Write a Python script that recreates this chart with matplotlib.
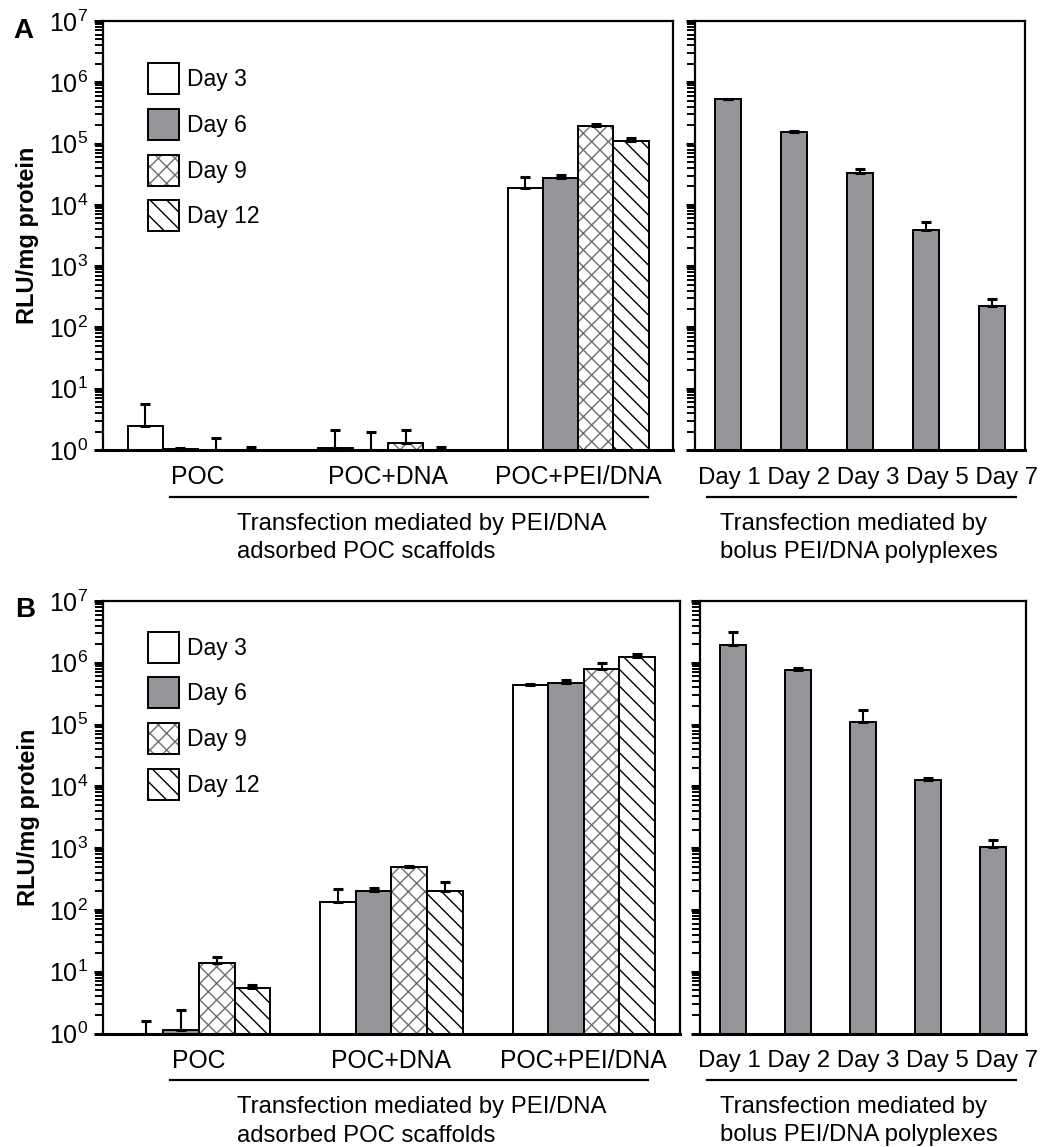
import numpy as np
import matplotlib
matplotlib.use('Agg')
import matplotlib.pyplot as plt
from matplotlib.patches import Patch
from matplotlib.ticker import LogLocator, NullFormatter

plt.rcParams['font.family'] = ['Liberation Sans', 'DejaVu Sans']
plt.rcParams['mathtext.fontset'] = 'custom'
plt.rcParams['mathtext.rm'] = 'Liberation Sans'
plt.rcParams['mathtext.it'] = 'Liberation Sans:italic'
plt.rcParams['mathtext.bf'] = 'Liberation Sans:bold'
plt.rcParams['hatch.linewidth'] = 1.0

# ---------------- data ----------------
days = ['Day 3', 'Day 6', 'Day 9', 'Day 12']
scaffolds = ['POC', 'POC+DNA', 'POC+PEI/DNA']
bolus_days = ['Day 1', 'Day 2', 'Day 3', 'Day 5', 'Day 7']

# Panel A, scaffold groups (POC, POC+DNA, POC+PEI/DNA)
a_day3 = [2.5, 1.07, 1.86e4]
a_day3_err = [3.1, 1.03, 1.04e4]
a_day6 = [1.02, 1.0, 2.74e4]
a_day6_err = [0.07, 0.95, 3.6e3]
a_day9 = [1.0, 1.3, 1.93e5]
a_day9_err = [0.55, 0.8, 1.5e4]
a_day12 = [1.0, 1.0, 1.11e5]
a_day12_err = [0.13, 0.12, 1.4e4]
# Panel A, bolus polyplexes
a_bolus = [5.27e5, 1.56e5, 3.34e4, 3.93e3, 226]
a_bolus_err = [1.3e4, 4e3, 4.6e3, 1.32e3, 62]

# Panel B, scaffold groups
b_day3 = [1.0, 136, 4.45e5]
b_day3_err = [0.6, 82, 1.5e4]
b_day6 = [1.14, 199, 4.77e5]
b_day6_err = [1.26, 28, 4.3e4]
b_day9 = [13.9, 498, 8.05e5]
b_day9_err = [3.2, 7, 1.85e5]
b_day12 = [5.55, 199, 1.23e6]
b_day12_err = [0.45, 80, 1.8e5]
# Panel B, bolus polyplexes
b_bolus = [1.92e6, 7.76e5, 1.1e5, 1.25e4, 1035]
b_bolus_err = [1.28e6, 3.4e4, 6e4, 1.4e3, 308]

# ---------------- style ----------------
GRAY = '#939598'
HATCH_GRAY = '#6d6e71'
EDGE_LW = 1.4
styles = [
    dict(face='white', hatch=None, hcolor=None),
    dict(face=GRAY, hatch=None, hcolor=None),
    dict(face='white', hatch='xx', hcolor=HATCH_GRAY),
    dict(face='white', hatch='\\\\', hcolor='black'),
]

W, H = 1043, 1147
fig = plt.figure(figsize=(W / 100, H / 100), dpi=100)


def add_ax(x0, x1, ytop, ybot):
    return fig.add_axes([x0 / W, 1 - ybot / H, (x1 - x0) / W, (ybot - ytop) / H])


def style_axis(ax, show_labels=True):
    ax.set_yscale('log')
    ax.set_ylim(1, 1e7)
    ax.yaxis.set_major_locator(LogLocator(base=10, numticks=20))
    ax.yaxis.set_minor_locator(LogLocator(base=10, subs=np.arange(2, 10), numticks=100))
    ax.yaxis.set_minor_formatter(NullFormatter())
    ax.tick_params(axis='y', which='major', direction='out', length=6.5, width=2.2,
                   labelsize=18, pad=4, labelleft=show_labels)
    ax.tick_params(axis='y', which='minor', direction='out', length=5.5, width=1.4)
    ax.tick_params(axis='x', length=0, labelsize=17.8, pad=11)
    for s in ['top', 'left', 'right']:
        ax.spines[s].set_linewidth(1.6)
    ax.spines['bottom'].set_linewidth(2.2)


def draw_grouped(ax, series, errs, width=0.185):
    x = np.arange(len(scaffolds))
    n = len(series)
    for i, (vals, err, st) in enumerate(zip(series, errs, styles)):
        xs = x + (i - (n - 1) / 2) * width
        if st['hatch']:
            ax.bar(xs, vals, width, color='white', edgecolor=st['hcolor'],
                   hatch=st['hatch'], linewidth=0, zorder=2)
            ax.bar(xs, vals, width, fill=False, edgecolor='black',
                   linewidth=EDGE_LW, zorder=2.1)
        else:
            ax.bar(xs, vals, width, color=st['face'], edgecolor='black',
                   linewidth=EDGE_LW, zorder=2)
        ax.errorbar(xs, vals, yerr=[np.zeros(len(vals)), err], fmt='none',
                    ecolor='black', elinewidth=1.5, capsize=3.8, capthick=2.2, zorder=3)
    ax.set_xlim(-0.5, 2.5)
    ax.set_xticks(x)
    ax.set_xticklabels(scaffolds)


def draw_bolus(ax, vals, err, width=0.4):
    x = np.arange(len(bolus_days))
    ax.bar(x, vals, width, color=GRAY, edgecolor='black', linewidth=EDGE_LW, zorder=2)
    ax.errorbar(x, vals, yerr=[np.zeros(len(vals)), err], fmt='none',
                ecolor='black', elinewidth=1.5, capsize=3.8, capthick=2.2, zorder=3)
    ax.set_xlim(-0.5, 4.5)
    ax.set_xticks(x)
    ax.tick_params(axis='x', labelbottom=False)


def legend_handles():
    hs = []
    for st in styles:
        if st['hatch']:
            hs.append((Patch(facecolor='white', edgecolor=st['hcolor'], hatch=st['hatch'], linewidth=0),
                       Patch(fill=False, edgecolor='black', linewidth=EDGE_LW)))
        else:
            hs.append(Patch(facecolor=st['face'], edgecolor='black', linewidth=EDGE_LW))
    return hs


def add_legend(ax, x, y):
    ax.legend(legend_handles(), days, loc='upper left', bbox_to_anchor=(x, y),
              frameon=False, fontsize=16.5, borderpad=0, borderaxespad=0,
              handlelength=1.354, handleheight=1.706, handletextpad=0.35,
              labelspacing=0.64)


def underline(ax, x0, x1, y):
    ax.plot([x0, x1], [y, y], transform=ax.transAxes, color='black', lw=1.6, clip_on=False)


panels = [
    dict(letter='A', groups=[a_day3, a_day6, a_day9, a_day12],
         errs=[a_day3_err, a_day6_err, a_day9_err, a_day12_err],
         bolus=a_bolus, bolus_err=a_bolus_err,
         left=(103, 673.3), right=(695.3, 1025), ytop=21, ybot=450,
         leg=(0.0789, 0.9014), letter_xy=(13, 38), ylab=(27.5, 235.5)),
    dict(letter='B', groups=[b_day3, b_day6, b_day9, b_day12],
         errs=[b_day3_err, b_day6_err, b_day9_err, b_day12_err],
         bolus=b_bolus, bolus_err=b_bolus_err,
         left=(102.7, 680), right=(700, 1026), ytop=601, ybot=1033.5,
         leg=(0.0779, 0.9293), letter_xy=(15, 617), ylab=(28.3, 817)),
]

for p in panels:
    axl = add_ax(p['left'][0], p['left'][1], p['ytop'], p['ybot'])
    axr = add_ax(p['right'][0], p['right'][1], p['ytop'], p['ybot'])
    style_axis(axl, True)
    style_axis(axr, False)
    draw_grouped(axl, p['groups'], p['errs'])
    draw_bolus(axr, p['bolus'], p['bolus_err'])
    add_legend(axl, *p['leg'])

    hpx = p['ybot'] - p['ytop']
    lw_px = p['left'][1] - p['left'][0]
    rw_px = p['right'][1] - p['right'][0]
    # one run of day labels under the bolus panel
    axr.text((698.3 - p['right'][0]) / rw_px, -34 / hpx, ' '.join(bolus_days),
             transform=axr.transAxes, ha='left', va='baseline', fontsize=17.3)
    line_y = -(46.7) / hpx
    t1 = -(80) / hpx
    t2 = -(108) / hpx
    underline(axl, (170 - p['left'][0]) / lw_px, (648 - p['left'][0]) / lw_px, line_y)
    underline(axr, (706.5 - p['right'][0]) / rw_px, (1016 - p['right'][0]) / rw_px, line_y)
    xl = (237 - p['left'][0]) / lw_px
    xr = (720 - p['right'][0]) / rw_px
    axl.text(xl, t1, 'Transfection mediated by PEI/DNA', transform=axl.transAxes,
             ha='left', va='baseline', fontsize=17.2)
    axl.text(xl, t2, 'adsorbed POC scaffolds', transform=axl.transAxes,
             ha='left', va='baseline', fontsize=17.2)
    axr.text(xr, t1, 'Transfection mediated by', transform=axr.transAxes,
             ha='left', va='baseline', fontsize=17.2)
    axr.text(xr, t2, 'bolus PEI/DNA polyplexes', transform=axr.transAxes,
             ha='left', va='baseline', fontsize=17.2)

    fig.text(p['ylab'][0] / W, 1 - p['ylab'][1] / H, 'RLU/mg protein', rotation=90,
             ha='center', va='center', fontsize=17, fontweight='bold')
    fig.text(p['letter_xy'][0] / W, 1 - p['letter_xy'][1] / H, p['letter'],
             ha='left', va='baseline', fontsize=20, fontweight='bold')

fig.savefig('out.png', dpi=100)
